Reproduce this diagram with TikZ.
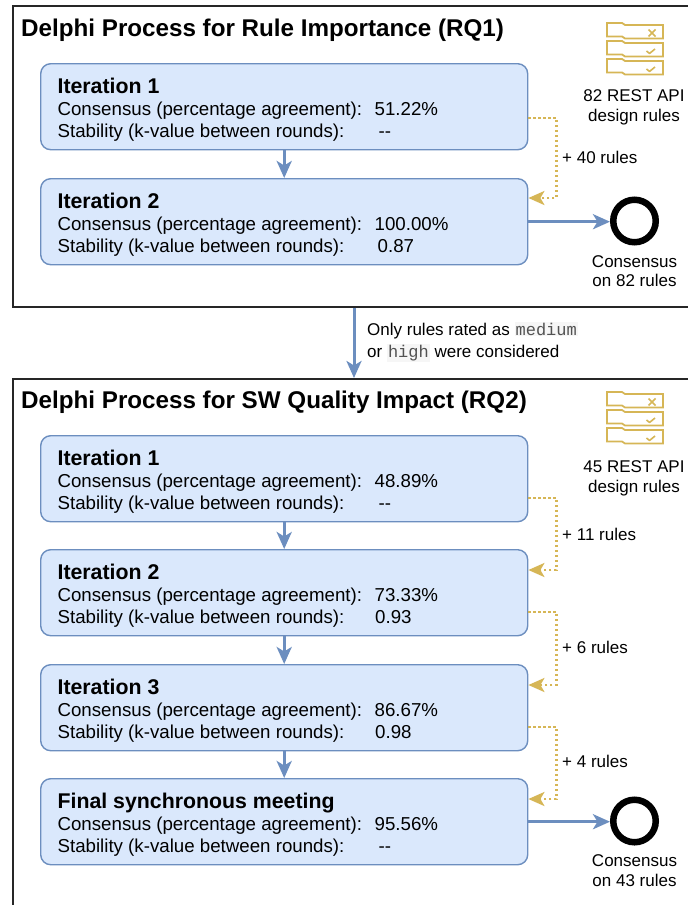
\documentclass[tikz,border=0pt]{standalone}
\usepackage{fontspec}
\setmainfont{Liberation Sans}
\setmonofont{Liberation Mono}
\usetikzlibrary{arrows.meta,calc}
\definecolor{boxfill}{HTML}{DAE8FC}
\definecolor{boxline}{HTML}{6C8EBF}
\definecolor{gold}{HTML}{D6B656}
\definecolor{codebg}{HTML}{F6F6F6}
\tikzset{
  iterbox/.style={draw=boxline, fill=boxfill, line width=1.4pt, rounded corners=10pt,
    minimum width=487pt, minimum height=86pt, anchor=north west, inner sep=0pt},
  outerbox/.style={draw=black!85, line width=1.5pt, anchor=north west, inner sep=0pt, minimum width=720pt},
  flow/.style={draw=boxline, line width=3pt, -{Stealth[length=17pt,width=15pt,inset=4.5pt]}},
  addrules/.style={draw=gold, line width=2.6pt, dash pattern=on 2.4pt off 2.6pt,
    -{Stealth[length=16pt,width=14pt,inset=4pt]}},
  ttl/.style={inner sep=0pt, anchor=base west, font=\bfseries\fontsize{24.2}{28}\selectfont},
  head/.style={inner sep=0pt, anchor=base west, font=\bfseries\fontsize{21.3}{25}\selectfont},
  body/.style={inner sep=0pt, anchor=base west, font=\fontsize{18.7}{22}\selectfont},
  side/.style={inner sep=0pt, font=\fontsize{17}{20}\selectfont},
  ring/.style={draw=black, line width=6.5pt, circle, minimum size=42.5pt, inner sep=0pt},
  iconline/.style={draw=gold, line width=1.8pt, line join=miter},
}
\newcommand\IterBox[6]{%
  \node[iterbox] (#1) at (40,#2) {};
  \node[head] (#1h) at ([xshift=17.4pt,yshift=-30.5pt]#1.north west) {#3};
  \node[body] (#1c) at ([xshift=17.4pt,yshift=-52.5pt]#1.north west) {Consensus (percentage agreement):};
  \node[body] (#1cv) at ([xshift=334.5pt,yshift=-52.5pt]#1.north west) {#4};
  \node[body] (#1s) at ([xshift=17.4pt,yshift=-74pt]#1.north west) {Stability (k-value between rounds):};
  \node[body] (#1sv) at ([xshift=#6,yshift=-74pt]#1.north west) {#5};
}
\newcommand\RulesIcon[1]{%
  \begin{scope}[shift={(607,#1)}]
    \foreach \k in {0,1,2}{
      \draw[iconline] (0,18*\k) -- (15,18*\k) -- (18,18*\k+2) -- (56,18*\k+2) -- (56,18*\k+15.5)
        -- (18,18*\k+15.5) -- (15,18*\k+13.5) -- (0,18*\k+13.5) -- cycle;
    }
    \draw[iconline, line width=1.6pt] (41.5,6.5) -- (48.5,13.5) (41.5,13.5) -- (48.5,6.5);
    \draw[iconline, line width=1.6pt, line join=round] (39.5,28) -- (42.5,30.5) -- (48,26);
    \draw[iconline, line width=1.6pt, line join=round] (39.5,46) -- (42.5,48.5) -- (48,44);
  \end{scope}
}
\newcommand\code[1]{{\fboxsep=1pt\colorbox{codebg}{\color{black!68}\ttfamily #1}}}
\begin{document}
\begin{tikzpicture}[x=1pt, y=-1pt]
\useasboundingbox (0,0) rectangle (688,905);
\fill[white] (0,0) rectangle (688,905);

% ---------- RQ1 ----------
\node[outerbox, minimum height=301pt] (o1) at (12,5) {};
\node[ttl] (t1) at (21,36) {Delphi Process for Rule Importance (RQ1)};
\IterBox{a1}{63}{Iteration 1}{51.22\%}{-{}-}{338.5pt}
\IterBox{a2}{178}{Iteration 2}{100.00\%}{0.87}{337.5pt}
\draw[flow] (a1.south) -- (a2.north);
\draw[addrules] ([yshift=-55pt]a1.north east) -- ++(28,0) |- ([yshift=-20pt]a2.north east);
\node[side, anchor=base west] (l40) at (562,163) {+ 40 rules};
\RulesIcon{23}
\node[side, anchor=base] (r1a) at (634,101.7) {82 REST API};
\node[side, anchor=base] (r1b) at (634,121.7) {design rules};
\node[ring] (c1) at (634.5,221) {};
\draw[flow] (a2.east) -- (a2.east -| c1.west);
\node[side, anchor=base] (k1a) at (634.5,267) {Consensus};
\node[side, anchor=base] (k1b) at (634.5,286) {on 82 rules};

% ---------- transition ----------
\node[outerbox, minimum height=600pt] (o2) at (12,378) {};
\coordinate (midx) at (354,0);
\draw[flow] (o1.south -| midx) -- (o2.north -| midx);
\node[side, anchor=base west] (m1) at (367,335) {Only rules rated as \code{medium}};
\node[side, anchor=base west] (m2) at (367,357) {or \code{high} were considered};

% ---------- RQ2 ----------
\node[ttl] (t2) at (21,408) {Delphi Process for SW Quality Impact (RQ2)};
\IterBox{b1}{435}{Iteration 1}{48.89\%}{-{}-}{338.5pt}
\IterBox{b2}{549}{Iteration 2}{73.33\%}{0.93}{335pt}
\IterBox{b3}{664}{Iteration 3}{86.67\%}{0.98}{335pt}
\IterBox{b4}{778}{Final synchronous meeting}{95.56\%}{-{}-}{338.5pt}
\draw[flow] (b1.south) -- (b2.north);
\draw[flow] (b2.south) -- (b3.north);
\draw[flow] (b3.south) -- (b4.north);
\draw[addrules] ([yshift=-63pt]b1.north east) -- ++(28,0) |- ([yshift=-21pt]b2.north east);
\draw[addrules] ([yshift=-63pt]b2.north east) -- ++(28,0) |- ([yshift=-21pt]b3.north east);
\draw[addrules] ([yshift=-63pt]b3.north east) -- ++(28,0) |- ([yshift=-21pt]b4.north east);
\node[side, anchor=base west] (l11) at (562,540) {+ 11 rules};
\node[side, anchor=base west] (l6) at (562,653) {+ 6 rules};
\node[side, anchor=base west] (l4) at (562,767.5) {+ 4 rules};
\RulesIcon{392}
\node[side, anchor=base] (r2a) at (634,472) {45 REST API};
\node[side, anchor=base] (r2b) at (634,492) {design rules};
\node[ring] (c2) at (634.5,821) {};
\draw[flow] (b4.east) -- (b4.east -| c2.west);
\node[side, anchor=base] (k2a) at (634.5,866.5) {Consensus};
\node[side, anchor=base] (k2b) at (634.5,886) {on 43 rules};
\end{tikzpicture}
\end{document}
